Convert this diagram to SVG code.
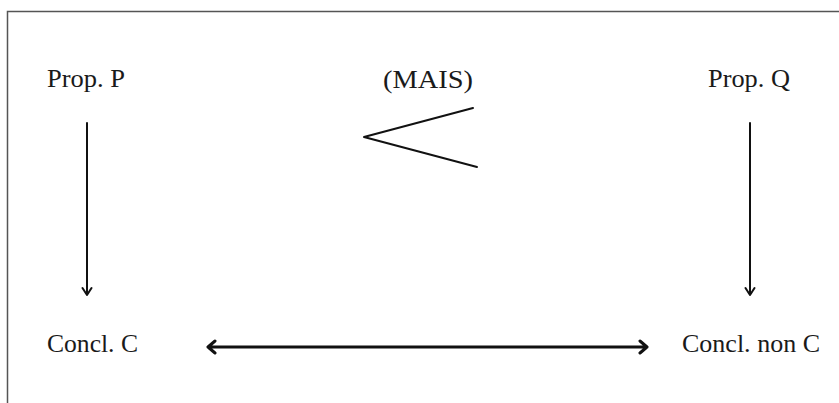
<svg xmlns="http://www.w3.org/2000/svg" width="839" height="403" viewBox="0 0 839 403">
<style>
.t{font-family:"Liberation Serif",serif;font-size:25px;fill:#1a1a1a}
.c{fill:none;stroke:#111;stroke-linecap:round;stroke-linejoin:round}
</style>
<rect x="0" y="0" width="839" height="403" fill="#fff"/>
<path d="M7.5,403 V11.5 H839" fill="none" stroke="#555" stroke-width="1.5"/>
<g id="propP"><text class="t" x="47" y="87" textLength="78" lengthAdjust="spacingAndGlyphs">Prop. P</text></g>
<g id="mais"><text class="t" x="383" y="88" textLength="90" lengthAdjust="spacingAndGlyphs">(MAIS)</text></g>
<g id="propQ"><text class="t" x="708" y="87" textLength="82" lengthAdjust="spacingAndGlyphs">Prop. Q</text></g>
<g id="conclC"><text class="t" x="47" y="352" textLength="91" lengthAdjust="spacingAndGlyphs">Concl. C</text></g>
<g id="conclNonC"><text class="t" x="682" y="352" textLength="138" lengthAdjust="spacingAndGlyphs">Concl. non C</text></g>
<g id="connectors">
<path class="c" stroke-width="2" d="M87,123 V295 M82.5,288 L87,295 L91.5,288"/>
<path class="c" stroke-width="2" d="M750,123 V295 M745.5,288 L750,295 L754.5,288"/>
<path class="c" stroke-width="2" d="M473,108 L364,137 L477,167"/>
<path class="c" stroke-width="3" d="M208,347 H647 M215,341 L208,347 L215,353 M640,341 L647,347 L640,353"/>
</g>
</svg>
